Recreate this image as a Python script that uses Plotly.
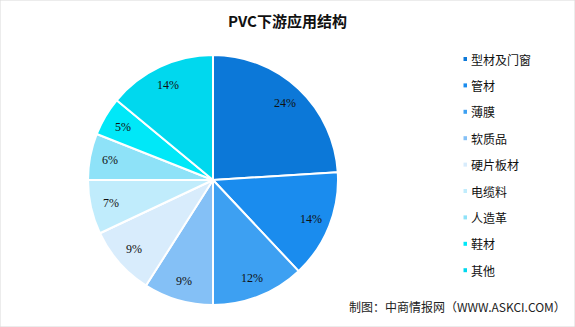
import math
import plotly.graph_objects as go

title = "PVC下游应用结构"
labels = ["型材及门窗", "管材", "薄膜", "软质品", "硬片板材", "电缆料", "人造革", "鞋材", "其他"]
values = [24, 14, 12, 9, 9, 7, 6, 5, 14]
colors = ["#0c78d8", "#1a8cee", "#3da0f2", "#84c0f6", "#d8ecfc",
          "#c0ecfc", "#8ee2f8", "#00e8f8", "#00d8ee"]
source = "制图：中商情报网（WWW.ASKCI.COM）"

W, H = 575, 327
CX, CY, R = 213, 180, 125
fig = go.Figure()
fig.add_trace(go.Pie(
    labels=labels, values=values, sort=False, direction="clockwise", rotation=0,
    marker=dict(colors=colors, line=dict(color="white", width=2)),
    textinfo="none",
    domain=dict(x=[(CX - R) / W, (CX + R) / W], y=[1 - (CY + R) / H, 1 - (CY - R) / H]),
    showlegend=False, hoverinfo="label+percent",
))

ann = [
    dict(text="<b>" + title + "</b>", x=287 / W, y=1 - 20 / H, xref="paper", yref="paper",
         showarrow=False, xanchor="center", yanchor="middle",
         font=dict(family="Noto Sans CJK SC", size=15, color="#111")),
    dict(text=source, x=568 / W, y=1 - 306 / H, xref="paper", yref="paper",
         showarrow=False, xanchor="right", yanchor="middle",
         font=dict(family="Noto Sans CJK SC", size=12, color="#222")),
]

# slice labels placed along each slice's mid-angle
total = sum(values)
cum = 0
for v in values:
    mid = (cum + v / 2) / total * 2 * math.pi
    cum += v
    px = CX + 0.84 * R * math.sin(mid)
    py = CY - 0.84 * R * math.cos(mid)
    ann.append(dict(text=f"{v}%", x=px / W, y=1 - py / H, xref="paper", yref="paper",
                    showarrow=False, xanchor="center", yanchor="middle",
                    font=dict(family="Liberation Serif, DejaVu Serif, serif", size=12, color="#111")))

shapes = [dict(type="rect", xref="paper", yref="paper", x0=0, y0=0, x1=1, y1=1,
               line=dict(color="#d9d9d9", width=1))]
y0, dy = 59, 26.4
for i, (lab, col) in enumerate(zip(labels, colors)):
    yc = y0 + i * dy
    shapes.append(dict(type="rect", xref="paper", yref="paper",
                       x0=463.5 / W, x1=467 / W, y0=1 - (yc + 2) / H, y1=1 - (yc - 2) / H,
                       fillcolor=col, line=dict(width=0)))
    ann.append(dict(text=lab, x=469 / W, y=1 - yc / H, xref="paper", yref="paper",
                    showarrow=False, xanchor="left", yanchor="middle",
                    font=dict(family="Noto Sans CJK SC", size=12, color="#111")))

fig.update_layout(width=W, height=H, margin=dict(l=0, r=0, t=0, b=0),
                  paper_bgcolor="white", plot_bgcolor="white",
                  annotations=ann, shapes=shapes)
fig.write_html("out.html")
